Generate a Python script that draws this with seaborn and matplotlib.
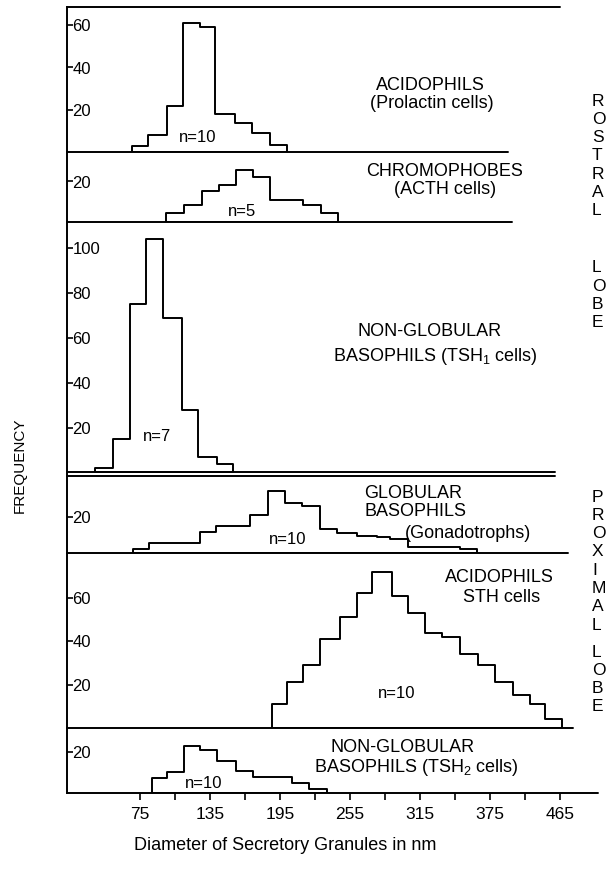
import matplotlib
matplotlib.use("Agg")
import matplotlib.pyplot as plt
import numpy as np
import pandas as pd
import seaborn as sns

# ---------------- data: bin edges (nm) and frequencies ----------------
prl_edges = [68, 82, 98, 112, 126, 139, 156, 171, 186, 201]
prl_counts = [3, 8, 22, 61, 59, 18, 14, 9, 3.5]

acth_edges = [97, 113, 128, 143, 157, 172, 186, 201, 215, 230, 245]
acth_counts = [4.6, 8.6, 15.5, 18.4, 25.7, 22.1, 11, 11, 8.6, 4.6]

tsh1_edges = [36, 52, 66, 80, 95, 111, 125, 141, 155]
tsh1_counts = [2, 15, 75, 104, 69, 28, 7, 4]

gon_edges = [69, 83, 97, 112, 126, 140, 155, 169, 185, 199, 214, 229, 244,
             261, 278, 289, 305, 320, 335, 349, 364]
gon_counts = [2.2, 5.4, 5.4, 5.4, 11.8, 15, 15, 21, 34.4, 27.6, 26, 13.2,
              10.9, 9.4, 9, 8, 3.5, 3.5, 3.5, 2]

sth_edges = [188, 201, 215, 229, 246, 261, 274, 291, 305, 319, 334, 349,
             365, 379, 395, 409, 422, 437]
sth_counts = [11, 21, 29, 41, 51, 62, 72, 61, 53, 44, 42, 34, 29, 21, 15, 11, 4]

tsh2_edges = [85, 98, 113, 126, 141, 157, 172, 189, 205, 220, 235]
tsh2_counts = [7.5, 10.5, 23, 21, 16, 11, 8, 8, 5, 2]

x_tick_values = [75, 105, 135, 165, 195, 225, 255, 285, 315, 345, 375, 405, 435]
x_tick_labels = ["75", "", "135", "", "195", "", "255", "", "315", "", "375", "", "465"]

# ---------------- style ----------------
sns.set_theme(style="white")
plt.rcParams["font.family"] = ["Liberation Sans", "DejaVu Sans"]
plt.rcParams["mathtext.fontset"] = "custom"
plt.rcParams["mathtext.rm"] = "Liberation Sans"

W, H = 615, 871
fig = plt.figure(figsize=(W / 100, H / 100), dpi=100)
fig.patch.set_facecolor("white")

X0, X1 = 67, 615
PX_PER_NM = 35 / 30
XLIM = (75 + (X0 - 140) / PX_PER_NM, 75 + (X1 - 140) / PX_PER_NM)
LW = 1.4


def frac(px):
    return (px - X0) / (X1 - X0)


panels = [
    dict(edges=prl_edges, counts=prl_counts, top=7, base=152.5, bottom=152.5,
         scale=2.125, yticks=[20, 40, 60], line_end=508, top_line_end=560),
    dict(edges=acth_edges, counts=acth_counts, top=152.5, base=222.5, bottom=222.5,
         scale=2.05, yticks=[20], line_end=512),
    dict(edges=tsh1_edges, counts=tsh1_counts, top=222.5, base=472.5, bottom=476.5,
         scale=2.242, yticks=[20, 40, 60, 80, 100], line_end=555),
    dict(edges=gon_edges, counts=gon_counts, top=476.5, base=553, bottom=553,
         scale=1.8, yticks=[20], line_end=568),
    dict(edges=sth_edges, counts=sth_counts, top=553, base=728, bottom=728,
         scale=2.17, yticks=[20, 40, 60], line_end=573),
    dict(edges=tsh2_edges, counts=tsh2_counts, top=728, base=793, bottom=793,
         scale=2.03, yticks=[20], line_end=598),
]

axes = []
for i, p in enumerate(panels):
    ax = fig.add_axes([X0 / W, 1 - p["bottom"] / H, (X1 - X0) / W,
                       (p["bottom"] - p["top"]) / H])
    ax.set_facecolor("none")
    edges = [float(e) for e in p["edges"]]
    centers = [(a + b) / 2 for a, b in zip(edges[:-1], edges[1:])]
    df = pd.DataFrame({"diam": centers, "freq": p["counts"]})
    sns.histplot(data=df, x="diam", weights="freq", bins=edges, element="step",
                 fill=True, color="black", facecolor="none", edgecolor="black",
                 linewidth=LW, ax=ax)
    y0 = -(p["bottom"] - p["base"]) / p["scale"]
    y1 = (p["base"] - p["top"]) / p["scale"]
    ax.set_xlim(*XLIM)
    ax.set_ylim(y0, y1)
    for s in ["top", "right", "bottom"]:
        ax.spines[s].set_visible(False)
    ax.spines["left"].set_linewidth(LW)
    ax.spines["left"].set_color("black")
    ax.axhline(0, xmin=0, xmax=frac(p["line_end"]), color="black", lw=LW,
               clip_on=False)
    if y0 < 0:
        ax.axhline(y0, xmin=0, xmax=frac(p["line_end"]), color="black", lw=LW,
                   clip_on=False)
    if p.get("top_line_end"):
        ax.axhline(y1, xmin=0, xmax=frac(p["top_line_end"]), color="black",
                   lw=LW, clip_on=False)
    ax.set_yticks(p["yticks"])
    ax.set_yticklabels([str(v) for v in p["yticks"]])
    ax.tick_params(axis="y", direction="in", length=4, width=1.2, pad=-4,
                   labelsize=12, colors="black", left=True)
    for lbl in ax.get_yticklabels():
        lbl.set_horizontalalignment("left")
    ax.set_ylabel("")
    ax.set_xlabel("")
    if i < len(panels) - 1:
        ax.set_xticks([])
    else:
        ax.set_xticks(x_tick_values)
        ax.set_xticklabels(x_tick_labels)
        ax.tick_params(axis="x", direction="out", length=5, width=1.2, pad=5,
                       labelsize=12.5, colors="black", bottom=True)
    axes.append(ax)


def ftext(x, y, s, size=13, ha="center", **kw):
    fig.text(x / W, 1 - y / H, s, ha=ha, va="center", fontsize=size,
             color="black", **kw)


# panel annotations
ftext(430, 86, "ACIDOPHILS")
ftext(432, 104, "(Prolactin cells)")
ftext(198, 138, "n=10", size=12)

ftext(445, 172, "CHROMOPHOBES")
ftext(445, 190, "(ACTH cells)")
ftext(242, 212, "n=5", size=12)

ftext(430, 332, "NON-GLOBULAR")
ftext(435, 356, r"BASOPHILS (TSH$_\mathregular{1}$ cells)")
ftext(157, 436, "n=7", size=12)

ftext(364, 493, "GLOBULAR", ha="left")
ftext(364, 511, "BASOPHILS", ha="left")
ftext(405, 533, "(Gonadotrophs)", ha="left")
ftext(288, 540, "n=10", size=12)

ftext(499, 578, "ACIDOPHILS")
ftext(502, 597, "STH cells")
ftext(397, 694, "n=10", size=12)

ftext(330, 747, "NON-GLOBULAR", ha="left")
ftext(314, 767, r"BASOPHILS (TSH$_\mathregular{2}$ cells)", ha="left")
ftext(204, 783, "n=10", size=12)

# right-hand stacked letters
for word, y_start in [("ROSTRAL", 101), ("LOBE", 268), ("PROXIMAL", 497), ("LOBE", 652)]:
    for k, ch in enumerate(word):
        ftext(592, y_start + k * 18.3, ch, size=12.5, ha="left")

ftext(20, 465, "FREQUENCY", size=11, rotation=90)
ftext(285, 845, "Diameter of Secretory Granules in nm", size=13)

fig.savefig("out.png", dpi=100, facecolor="white")
